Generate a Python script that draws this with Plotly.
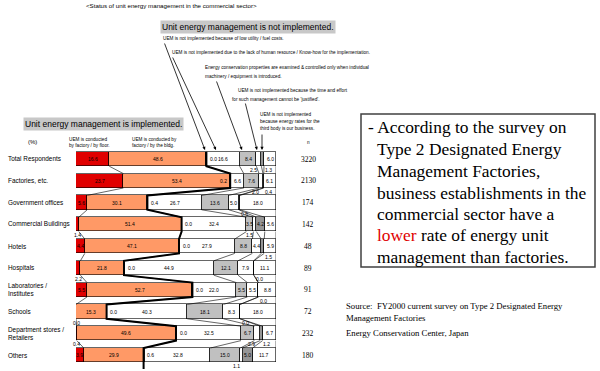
import plotly.graph_objects as go

# ---------------- data ----------------
categories = ["Total Respondents", "Factories, etc.", "Government offices", "Commercial Buildings",
              "Hotels", "Hospitals", "Laboratories /<br>Institutes", "Schools",
              "Department stores /<br>Retailers", "Others"]
n_values = [3220, 2130, 174, 142, 48, 89, 91, 72, 232, 180]

floor_pct = [16.6, 23.7, 5.6, 1.4, 4.4, 2.2, 5.5, 0.0, 0.4, 3.9]
bldg_pct = [48.6, 53.4, 30.1, 51.4, 47.1, 21.8, 52.7, 15.3, 49.6, 29.9]
low_cost_pct = [0.0, 0.2, 0.4, 0.0, 0.0, 0.0, 0.0, 0.0, 0.0, 0.6]
no_staff_pct = [16.6, 6.6, 26.7, 32.4, 27.9, 44.9, 22.0, 40.3, 32.5, 32.8]
examined_pct = [8.4, 7.6, 13.6, 3.5, 8.8, 12.1, 5.5, 18.1, 6.7, 15.0]
not_justified_pct = [2.5, 2.0, 5.0, 1.5, 4.4, 7.9, 5.5, 8.3, 2.9, 1.1]
third_body_pct = [1.3, 0.4, 0.6, 4.2, 1.5, 0.0, 0.0, 0.0, 1.2, 5.0]
other_pct = [6.0, 6.1, 18.0, 5.6, 5.9, 11.1, 8.8, 18.0, 6.7, 11.7]

series = [floor_pct, bldg_pct, low_cost_pct, no_staff_pct, examined_pct,
          not_justified_pct, third_body_pct, other_pct]
colors = ["#e00000", "#ff9966", "#ffffff", "#ffffff", "#c0c0c0", "#ffffff", "#969696", "#ffffff"]

W, H = 600, 371
def X(px):
    return px / W
def Y(py):
    return 1 - py / H

rows = list(range(len(categories)))
BW = 0.66
fig = go.Figure()

for s, c in zip(series, colors):
    fig.add_trace(go.Bar(y=rows, x=s, orientation="h", width=BW,
                         marker=dict(color=c, line=dict(color="black", width=0.6)),
                         hoverinfo="skip", textposition="none"))

# cumulative boundaries
cums = []
acc = [0.0] * len(rows)
for s in series:
    acc = [a + v for a, v in zip(acc, s)]
    cums.append(acc[:])

# thin connector lines
for k, cum in enumerate(cums):
    if k == 1:
        continue
    xs, ys = [], []
    for i in rows[:-1]:
        xs += [cum[i], cum[i + 1], None]
        ys += [i + BW / 2, i + 1 - BW / 2, None]
    fig.add_trace(go.Scatter(x=xs, y=ys, mode="lines", line=dict(color="black", width=0.6),
                             hoverinfo="skip"))

# thick implemented / not-implemented boundary
c2 = cums[1]
xs, ys = [], []
for i in rows:
    xs += [c2[i], c2[i]]
    ys += [i - BW / 2, i + BW / 2]
xs.append(c2[-1]); ys.append(rows[-1] + BW / 2 + 0.3)
fig.add_trace(go.Scatter(x=xs, y=ys, mode="lines", line=dict(color="black", width=2),
                         hoverinfo="skip"))

ann = []
LBL = dict(family="Liberation Sans", size=5, color="black")
for i in rows:
    start = 0.0
    for k, s in enumerate(series):
        v = s[i]
        txt_v = f"{v:.1f}"
        if k == 2:
            if no_staff_pct[i] < 10:
                ann.append(dict(x=start - 0.6, y=i, xref="x", yref="y", text=txt_v, showarrow=False,
                                xanchor="right", font=LBL))
            else:
                ann.append(dict(x=start + 0.8, y=i, xref="x", yref="y", text=txt_v, showarrow=False,
                                xanchor="left", font=LBL))
        elif v >= 3:
            ann.append(dict(x=start + v / 2, y=i, xref="x", yref="y", text=txt_v, showarrow=False,
                            font=LBL))
        else:
            xa = "center"
            if k == 5:
                xa = "right"
            elif k == 6:
                xa = "left"
            ann.append(dict(x=start + v / 2, y=i + BW / 2 + 0.17, xref="x", yref="y", text=txt_v,
                            showarrow=False, xanchor=xa, font=LBL))
        start += v

CAT = dict(family="Liberation Sans", size=6.4, color="black")
for i, cat in enumerate(categories):
    ann.append(dict(x=X(6), y=i, xref="paper", yref="y", text=cat, showarrow=False,
                    xanchor="left", align="left", font=CAT))
NF = dict(family="Liberation Serif", size=7.5, color="black")
for i, n in enumerate(n_values):
    ann.append(dict(x=X(308), y=i, xref="paper", yref="y", text=str(n), showarrow=False, font=NF))

SM = dict(family="Liberation Sans", size=4.7, color="black")
def txt(x, y, t, font=SM, xanchor="left", **kw):
    ann.append(dict(x=X(x), y=Y(y), xref="paper", yref="paper", text=t, showarrow=False,
                    xanchor=xanchor, yanchor="middle", align="left", font=font, **kw))

txt(84, 5, "&lt;Status of unit energy management in the commercial sector&gt;",
    font=dict(family="Liberation Sans", size=6.2, color="black"))
txt(160, 27, "Unit energy management is not implemented.",
    font=dict(family="Liberation Sans", size=8.5, color="black"), bgcolor="#c8c8c8", borderpad=1)
txt(23, 124, "Unit energy management is implemented.",
    font=dict(family="Liberation Sans", size=8.5, color="black"), bgcolor="#c8c8c8", borderpad=1)

txt(161, 39, "UEM is not implemented because of low utility / fuel costs.")
txt(170, 53, "UEM is not implemented due to the lack of human resource / Know-how for the implementation.")
txt(203, 67, "Energy conservation properties are examined &amp; controlled only when individual")
txt(203, 77, "machinery / equipment is introduced.")
txt(236, 91, "UEM is not implemented because the time and effort")
txt(230, 99, "for such management cannot be 'justified'.")
txt(258, 115, "UEM is not implemented")
txt(258, 122, "because energy rates for the")
txt(258, 129, "third body is our business.")

txt(26, 142, "(%)", font=dict(family="Liberation Sans", size=6, color="black"))
txt(67, 139, "UEM is conducted")
txt(67, 145, "by factory / by floor.")
txt(130, 139, "UEM is conducted by")
txt(130, 145, "factory / by the bldg.")
txt(308, 143, "n", xanchor="center")

# arrows (tail -> tip, pixels)
arrows = [((164, 42), (205, 150)), ((172, 56), (216, 150)), ((216, 80), (242, 150)),
          ((245, 102), (257, 150)), ((262, 133), (262, 150))]
for (tx, ty), (hx, hy) in arrows:
    ann.append(dict(x=X(hx), y=Y(hy), xref="paper", yref="paper", text="", showarrow=True,
                    ax=tx - hx, ay=ty - hy, arrowhead=2, arrowsize=0.8, arrowwidth=0.8,
                    arrowcolor="black", standoff=0))

# right text box
BOX = dict(family="Liberation Serif", size=17.4, color="black")
box_lines = ["- According to the survey on", "Type 2 Designated Energy", "Management Factories,",
             "business establishments in the", "commercial sector have a",
             "<span style='color:#e00000'>lower</span> rate of energy unit",
             "management than factories."]
box_y = [127, 149, 171, 193, 214, 235, 257]
for j, (line, yy) in enumerate(zip(box_lines, box_y)):
    txt(366 if j == 0 else 375, yy, line, font=BOX)

SRC = dict(family="Liberation Serif", size=8.7, color="black")
txt(344, 306, "Source:  FY2000 current survey on Type 2 Designated Energy", font=SRC)
txt(344, 318, "Management Factories", font=SRC)
txt(344, 333, "Energy Conservation Center, Japan", font=SRC)

shapes = [dict(type="rect", xref="paper", yref="paper", x0=X(361), x1=X(595), y0=Y(267), y1=Y(114),
               line=dict(color="#404040", width=1.5))]

row_px = 21.8
top_px = 148.1
ymax = 9.7
fig.update_layout(
    width=W, height=H, margin=dict(l=0, r=0, t=0, b=0),
    paper_bgcolor="white", plot_bgcolor="white", showlegend=False,
    barmode="stack", bargap=0,
    xaxis=dict(domain=[X(76), X(276)], range=[0, 100], visible=False, fixedrange=True),
    yaxis=dict(domain=[Y(top_px + (ymax + 0.5) * row_px), Y(top_px)], range=[ymax, -0.5],
               visible=False, fixedrange=True),
    annotations=ann, shapes=shapes,
)
fig.write_html("out.html")
